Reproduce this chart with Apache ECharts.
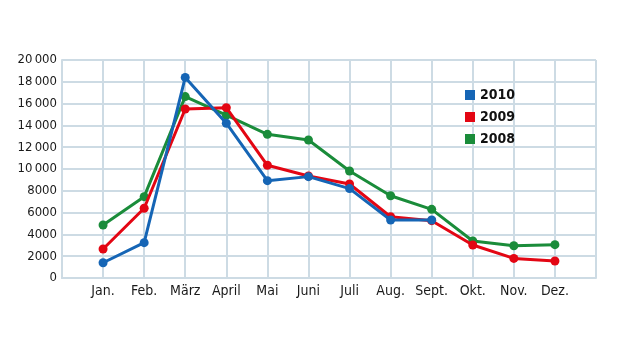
<!DOCTYPE html>
<html><head><meta charset="utf-8">
<script src="https://cdn.jsdelivr.net/npm/echarts@6/dist/echarts.min.js"></script>
<style>html,body{margin:0;padding:0;background:#fff}#c{width:620px;height:349px}</style>
</head><body><div id="c"></div>
<script>
const months = ['', 'Jan.', 'Feb.', 'März', 'April', 'Mai', 'Juni', 'Juli', 'Aug.', 'Sept.', 'Okt.', 'Nov.', 'Dez.', ''];
const s2010 = [null, 1400, 3240, 18400, 14200, 8930, 9300, 8200, 5320, 5320, null, null, null, null];
const s2009 = [null, 2660, 6400, 15500, 15630, 10340, 9360, 8620, 5620, 5260, 3030, 1800, 1560, null];
const s2008 = [null, 4860, 7460, 16640, 14950, 13180, 12660, 9820, 7550, 6300, 3390, 2960, 3060, null];
const yTicks = [0, 2000, 4000, 6000, 8000, 10000, 12000, 14000, 16000, 18000, 20000];

const font = "'DejaVu Sans Condensed', 'Liberation Sans Narrow', sans-serif";
const gridColor = '#cddbe4';
const colors = {'2010': '#1565b5', '2009': '#e30613', '2008': '#1a8c3a'};

function fmt(v) {
  if (v >= 10000) {
    const s = String(v);
    return s.slice(0, s.length - 3) + '\u2009' + s.slice(-3);
  }
  return String(v);
}

const chart = echarts.init(document.getElementById('c'));
function mk(name, data) {
  return {
    name: name, type: 'line', data: data, connectNulls: false,
    symbol: 'circle', symbolSize: 9,
    lineStyle: {width: 3, color: colors[name]},
    itemStyle: {color: colors[name]},
    z: name === '2010' ? 4 : (name === '2009' ? 3 : 2)
  };
}
chart.setOption({
  animation: false,
  grid: {left: 62, right: 24, top: 60, bottom: 71},
  legend: {
    orient: 'vertical', left: 465, top: 88, itemGap: 8, padding: 0,
    itemWidth: 10, itemHeight: 10, icon: 'rect',
    textStyle: {fontFamily: font, fontSize: 14, lineHeight: 14, color: '#111', fontWeight: 'bold'},
    data: ['2010', '2009', '2008']
  },
  xAxis: {
    type: 'category', data: months, boundaryGap: false,
    axisLine: {lineStyle: {color: gridColor, width: 2}},
    axisTick: {show: false},
    axisLabel: {interval: 0, fontFamily: font, fontSize: 14, color: '#1a1a1a', margin: 6},
    splitLine: {show: true, lineStyle: {color: gridColor, width: 2}}
  },
  yAxis: {
    type: 'value', min: 0, max: 20000, interval: 2000,
    axisLine: {show: true, lineStyle: {color: gridColor, width: 2}},
    axisTick: {show: false},
    axisLabel: {fontFamily: font, fontSize: 13, color: '#1a1a1a', margin: 5, formatter: fmt},
    splitLine: {show: true, lineStyle: {color: gridColor, width: 2}}
  },
  series: [mk('2008', s2008), mk('2009', s2009), mk('2010', s2010)]
});
</script></body></html>
